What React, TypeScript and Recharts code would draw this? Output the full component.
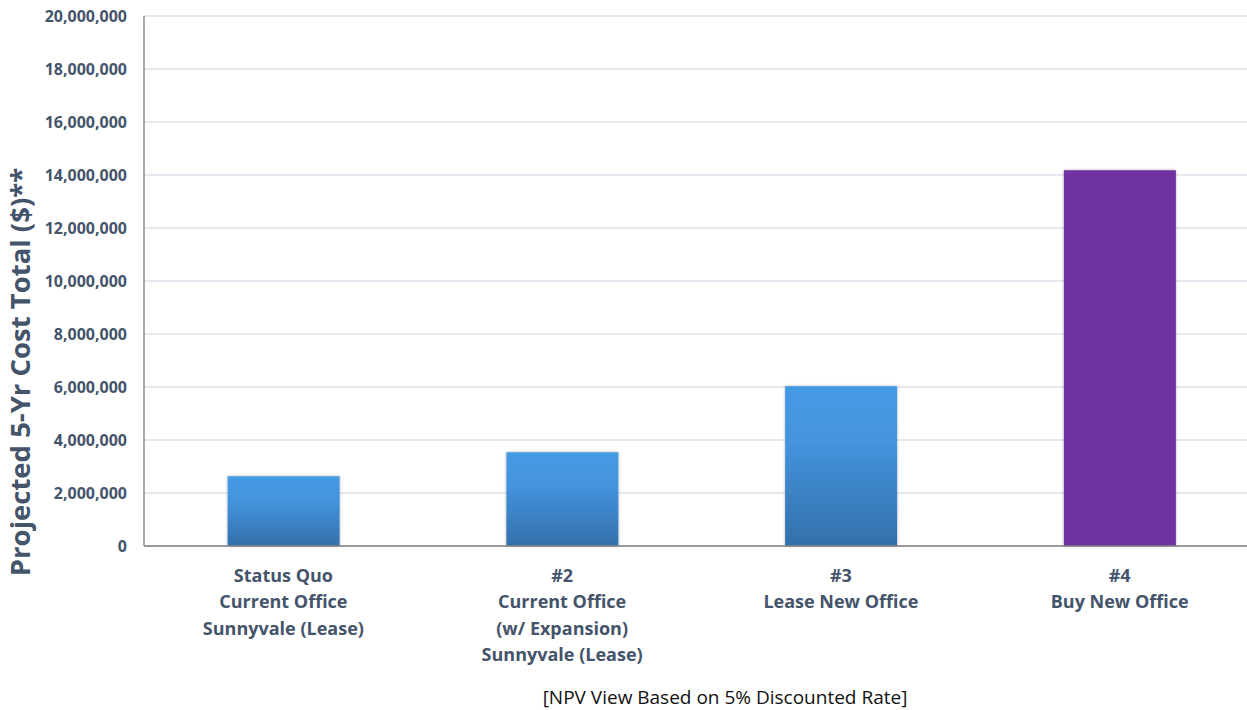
import React from 'react';
import { BarChart, Bar, XAxis, YAxis, CartesianGrid, Cell } from 'recharts';

// Projected 5-year cost per office option
const categoryLabels: string[][] = [
  ['Status Quo', 'Current Office', 'Sunnyvale (Lease)'],
  ['#2', 'Current Office', '(w/ Expansion)', 'Sunnyvale (Lease)'],
  ['#3', 'Lease New Office'],
  ['#4', 'Buy New Office'],
];
const costs: number[] = [2630000, 3540000, 6030000, 14180000];
const barFills: string[] = ['url(#blueBar)', 'url(#blueBar)', 'url(#blueBar)', '#7030A0'];
const yTicks: number[] = [0, 2000000, 4000000, 6000000, 8000000, 10000000, 12000000, 14000000, 16000000, 18000000, 20000000];

const yAxisTitle = 'Projected 5-Yr Cost Total ($)**';
const footNote = '[NPV View Based on 5% Discounted Rate]';

const data = categoryLabels.map((lines, i) => ({ name: lines.join(' '), cost: costs[i] }));

const FONT = "'Open Sans', sans-serif";
const TEXT = '#44546A';

function CategoryTick(props: any) {
  const { x, y, payload } = props;
  const lines = categoryLabels[payload.index] || [];
  return (
    <text x={x} y={y} textAnchor="middle" fill={TEXT} fontFamily={FONT} fontWeight={700} fontSize={18}>
      {lines.map((line, i) => (
        <tspan key={i} x={x} dy={i === 0 ? 36 : 26.3}>
          {line}
        </tspan>
      ))}
    </text>
  );
}

function YTitle() {
  return (
    <text
      x={29.5}
      y={372}
      transform="rotate(-90, 29.5, 372)"
      textAnchor="middle"
      fill={TEXT}
      fontFamily={FONT}
      fontWeight={700}
      fontSize={27.5}
    >
      {yAxisTitle}
    </text>
  );
}

function FootNote() {
  return (
    <text x={725} y={704} textAnchor="middle" fill="#111" fontFamily={FONT} fontSize={19}>
      {footNote}
    </text>
  );
}

export default function App() {
  return (
    <div
      style={{
        position: 'absolute',
        left: 0,
        top: 0,
        width: 1247,
        height: 710,
        overflow: 'hidden',
        background: '#fff',
      }}
    >
      <BarChart
        width={1259}
        height={710}
        data={data}
        margin={{ top: 16, right: 0, bottom: 0, left: 0 }}
        barCategoryGap="30%"
      >
        <defs>
          <linearGradient id="blueBar" x1="0" y1="0" x2="0" y2="1">
            <stop offset="0" stopColor="#459AE4" />
            <stop offset="0.35" stopColor="#4494DD" />
            <stop offset="1" stopColor="#336FAB" />
          </linearGradient>
          <filter id="barShadow" x="-10%" y="-10%" width="120%" height="120%">
            <feDropShadow dx="0" dy="0" stdDeviation="1.5" floodColor="#000" floodOpacity="0.3" />
          </filter>
        </defs>
        <CartesianGrid horizontal vertical={false} stroke="#DCE1E8" strokeWidth={1.5} />
        <XAxis
          dataKey="name"
          height={164}
          interval={0}
          tickLine={false}
          tickSize={0}
          tickMargin={0}
          axisLine={{ stroke: '#808080', strokeWidth: 1.5 }}
          tick={<CategoryTick />}
          label={<FootNote />}
        />
        <YAxis
          width={144}
          domain={[0, 20000000]}
          ticks={yTicks}
          interval={0}
          tickLine={false}
          tickSize={0}
          tickMargin={17}
          axisLine={{ stroke: '#8C8C8C', strokeWidth: 1.5 }}
          tickFormatter={(v: number) => v.toLocaleString('en-US')}
          tick={{ fill: TEXT, fontFamily: FONT, fontWeight: 700, fontSize: 16 }}
          label={<YTitle />}
        />
        <Bar dataKey="cost" isAnimationActive={false}>
          {data.map((_, i) => (
            <Cell key={i} fill={barFills[i]} filter="url(#barShadow)" />
          ))}
        </Bar>
      </BarChart>
    </div>
  );
}
